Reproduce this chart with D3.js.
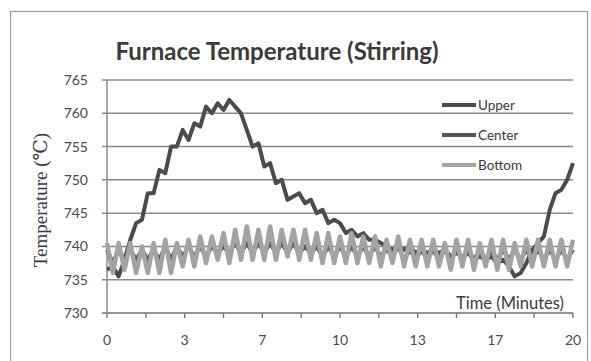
<!DOCTYPE html>
<html>
<head>
<meta charset="utf-8">
<script src="https://cdn.jsdelivr.net/npm/d3@7"></script>
<style>
  body { margin: 0; background: #fff; }
  svg { display: block; }
</style>
</head>
<body>
<svg id="chart" width="591" height="361"></svg>
<script>
// time in minutes, one sample every quarter minute
const time = [
  0, 0.25, 0.5, 0.75, 1, 1.25, 1.5, 1.75, 2, 2.25, 2.5, 2.75,
  3, 3.25, 3.5, 3.75, 4, 4.25, 4.5, 4.75, 5, 5.25, 5.5, 5.75,
  6, 6.25, 6.5, 6.75, 7, 7.25, 7.5, 7.75, 8, 8.25, 8.5, 8.75,
  9, 9.25, 9.5, 9.75, 10, 10.25, 10.5, 10.75, 11, 11.25, 11.5, 11.75,
  12, 12.25, 12.5, 12.75, 13, 13.25, 13.5, 13.75, 14, 14.25, 14.5, 14.75,
  15, 15.25, 15.5, 15.75, 16, 16.25, 16.5, 16.75, 17, 17.25, 17.5, 17.75,
  18, 18.25, 18.5, 18.75, 19, 19.25, 19.5, 19.75, 20
];

const upper = [
  736.5, 737, 735.5, 738,
  741, 743.5, 744, 748,
  748, 751.5, 751, 755,
  755, 757.5, 756, 758.5,
  758, 761, 760, 761.5,
  760.5, 762, 761, 760,
  757.5, 755, 755.5, 752,
  752.5, 749.5, 750, 747,
  747.5, 748, 746.5, 747,
  745, 745.5, 743.5, 744,
  743.5, 742, 742.5, 741.5,
  742, 741, 741, 740.5,
  740, 739.5, 740, 739.5,
  740, 739, 739.5, 739,
  739.5, 739, 739.5, 738.5,
  739, 738.5, 739, 738,
  738.5, 738, 738.5, 737.5,
  738, 737, 735.5, 736,
  737.5, 739.5, 740.5, 741.5,
  745.5, 748, 748.5, 750,
  752.5
];

const center = [
  739.5, 737.5, 739.5, 738,
  739.5, 738, 739.5, 738,
  739.5, 738, 740, 738,
  740, 738.5, 740, 738.5,
  740, 738.5, 740, 739,
  740, 739, 740.5, 739,
  740.5, 739, 740.5, 739,
  740.5, 739, 740.5, 739,
  740.5, 739, 740, 739,
  740, 738.5, 740, 738.5,
  740, 738.5, 740, 738.5,
  740, 738.5, 740, 738.5,
  739.5, 738.5, 740, 738,
  739.5, 738, 739.5, 738,
  739.5, 738, 739.5, 738,
  739.5, 738, 739.5, 738,
  739.5, 738, 739.5, 738,
  739.5, 738, 739.5, 738,
  739.5, 738, 739.5, 738,
  739.5, 738, 739.5, 738,
  739.5
];

const bottom = [
  740.5, 736, 740.5, 736.5,
  740.5, 736, 740, 736,
  740.5, 736, 741, 736,
  740.5, 737, 741, 737,
  741.5, 737.5, 741.5, 738,
  742, 737.5, 742.5, 738,
  743, 738, 742.5, 738,
  743, 738, 742.5, 738.5,
  742.5, 738, 742.5, 738,
  742, 737.5, 742, 737.5,
  741.5, 737.5, 742, 737.5,
  741.5, 737.5, 741.5, 737,
  741, 737.5, 741.5, 737,
  741, 737, 741, 737,
  741, 737, 740.5, 736.5,
  741, 737, 741, 736.5,
  740.5, 737, 741, 736.5,
  741, 736.5, 740.5, 737,
  741, 737, 741, 737,
  741, 737, 741, 737,
  741
];

const seriesNames = ["Upper", "Center", "Bottom"];
const seriesColors = ["#4b4b4b", "#565656", "#a3a3a3"];
const yTicks = [730, 735, 740, 745, 750, 755, 760, 765];
const xTickLabels = ["0", "3", "7", "10", "13", "17", "20"];

const svg = d3.select("#chart");

// plot area
const plotLeft = 107, plotRight = 573, plotTop = 80, plotBottom = 313;

const x = d3.scaleLinear().domain([0, 20]).range([plotLeft, plotRight]);
const y = d3.scaleLinear().domain([730, 765]).range([plotBottom, plotTop]);

// outer frame
svg.append("rect")
  .attr("x", 10.5).attr("y", 11.5)
  .attr("width", 577).attr("height", 360)
  .attr("fill", "none")
  .attr("stroke", "#9a9a9a")
  .attr("stroke-width", 1.2);

// title
svg.append("text")
  .attr("x", 277).attr("y", 60)
  .attr("text-anchor", "middle")
  .attr("font-family", "Lato, 'Open Sans', sans-serif")
  .attr("font-weight", "bold")
  .attr("font-size", 24)
  .attr("fill", "#3a3a3a")
  .text("Furnace Temperature (Stirring)");

// horizontal gridlines
svg.append("g")
  .selectAll("line")
  .data(yTicks)
  .enter()
  .append("line")
  .attr("x1", plotLeft - 5)
  .attr("x2", plotRight)
  .attr("y1", d => y(d))
  .attr("y2", d => y(d))
  .attr("stroke", d => d === 730 ? "#6f6f6f" : "#8a8a8a")
  .attr("stroke-width", 1.5);

// y axis line
svg.append("line")
  .attr("x1", plotLeft).attr("x2", plotLeft)
  .attr("y1", plotTop).attr("y2", plotBottom)
  .attr("stroke", "#8a8a8a")
  .attr("stroke-width", 1.5);

// y tick labels
svg.append("g")
  .selectAll("text")
  .data(yTicks)
  .enter()
  .append("text")
  .attr("x", 88)
  .attr("y", d => y(d) + 5)
  .attr("text-anchor", "end")
  .attr("font-family", "Lato, sans-serif")
  .attr("font-size", 14)
  .attr("fill", "#4a4a4a")
  .text(d => d);

// x ticks (every 1/12 of the range)
const xTickPos = d3.range(0, 13).map(i => i * 20 / 12);
svg.append("g")
  .selectAll("line")
  .data(xTickPos)
  .enter()
  .append("line")
  .attr("x1", d => x(d)).attr("x2", d => x(d))
  .attr("y1", plotBottom).attr("y2", plotBottom + 5)
  .attr("stroke", "#6f6f6f")
  .attr("stroke-width", 1.3);

// x tick labels
svg.append("g")
  .selectAll("text")
  .data(xTickLabels)
  .enter()
  .append("text")
  .attr("x", (d, i) => x(i * 20 / 6))
  .attr("y", 345)
  .attr("text-anchor", "middle")
  .attr("font-family", "Lato, sans-serif")
  .attr("font-size", 14)
  .attr("fill", "#4a4a4a")
  .text(d => d);

// axis titles
svg.append("text")
  .attr("transform", "translate(47,200) rotate(-90)")
  .attr("text-anchor", "middle")
  .attr("font-family", "'Liberation Serif', 'DejaVu Serif', serif")
  .attr("font-size", 19)
  .attr("fill", "#3a3a3a")
  .text("Temperature (\u2103)");

svg.append("text")
  .attr("x", 564).attr("y", 309)
  .attr("text-anchor", "end")
  .attr("font-family", "Lato, sans-serif")
  .attr("font-size", 16.5)
  .attr("fill", "#3a3a3a")
  .text("Time (Minutes)");

// series lines
const allSeries = [upper, center, bottom];
const line = d3.line()
  .x((d, i) => x(time[i]))
  .y(d => y(d))
  .curve(d3.curveLinear);

svg.append("g")
  .selectAll("path")
  .data(allSeries)
  .enter()
  .append("path")
  .attr("d", d => line(d))
  .attr("fill", "none")
  .attr("stroke", (d, i) => seriesColors[i])
  .attr("stroke-width", (d, i) => i === 2 ? 4.5 : 4)
  .attr("stroke-linejoin", "round");

// legend
const legend = svg.append("g")
  .selectAll("g")
  .data(seriesNames)
  .enter()
  .append("g")
  .attr("transform", (d, i) => `translate(442, ${105 + i * 30})`);

legend.append("line")
  .attr("x1", 0).attr("x2", 34)
  .attr("y1", 0).attr("y2", 0)
  .attr("stroke", (d, i) => seriesColors[i])
  .attr("stroke-width", 4);

legend.append("text")
  .attr("x", 36).attr("y", 5)
  .attr("font-family", "Lato, sans-serif")
  .attr("font-size", 13.5)
  .attr("fill", "#3a3a3a")
  .text(d => d);
</script>
</body>
</html>
